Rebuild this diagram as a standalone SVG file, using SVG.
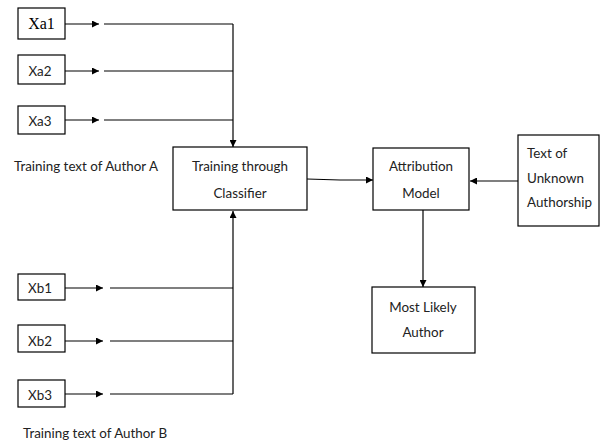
<svg xmlns="http://www.w3.org/2000/svg" width="600" height="445" viewBox="0 0 600 445">
<style>
.box{fill:#fff;stroke:#000;stroke-width:1.2}
.t{font-family:Lato,"Open Sans","Liberation Sans",sans-serif;font-size:13.4px;fill:#222}
.c{text-anchor:middle}
.ln{stroke:#000;stroke-width:1.2;fill:none}
.serif{font-family:"Liberation Serif","DejaVu Serif",serif;font-size:16px;fill:#000}
</style>
<defs>
<marker id="ah" viewBox="0 0 10 10" refX="10" refY="5" markerWidth="7" markerHeight="7" markerUnits="userSpaceOnUse" orient="auto">
<path d="M0,0 L10,5 L0,10 z" fill="#000"/>
</marker>
</defs>
<rect width="600" height="445" fill="#fff"/>
<g id="connectors">
<line class="ln" x1="65" y1="24" x2="99" y2="24" marker-end="url(#ah)"/>
<line class="ln" x1="104" y1="24" x2="233" y2="24"/>
<line class="ln" x1="65" y1="71" x2="99" y2="71" marker-end="url(#ah)"/>
<line class="ln" x1="104" y1="71" x2="233" y2="71"/>
<line class="ln" x1="65" y1="120" x2="99" y2="120" marker-end="url(#ah)"/>
<line class="ln" x1="104" y1="120" x2="233" y2="120"/>
<line class="ln" x1="233" y1="24" x2="233" y2="147" marker-end="url(#ah)"/>
<line class="ln" x1="65" y1="288" x2="103" y2="288" marker-end="url(#ah)"/>
<line class="ln" x1="110" y1="288" x2="233" y2="288"/>
<line class="ln" x1="65" y1="341" x2="103" y2="341" marker-end="url(#ah)"/>
<line class="ln" x1="110" y1="341" x2="233" y2="341"/>
<line class="ln" x1="65" y1="394" x2="103" y2="394" marker-end="url(#ah)"/>
<line class="ln" x1="110" y1="394" x2="233" y2="394"/>
<line class="ln" x1="233" y1="394" x2="233" y2="211" marker-end="url(#ah)"/>
<polyline class="ln" points="307,179 340,180 373,180" marker-end="url(#ah)"/>
<line class="ln" x1="518" y1="181" x2="470" y2="181" marker-end="url(#ah)"/>
<line class="ln" x1="423" y1="210" x2="423" y2="287" marker-end="url(#ah)"/>
</g>
<g id="xa1"><rect class="box" x="18" y="8" width="47" height="31"/><text class="serif c" x="41.5" y="29">Xa1</text></g>
<g id="xa2"><rect class="box" x="18" y="55" width="47" height="29"/><text class="t c" x="40" y="76">Xa2</text></g>
<g id="xa3"><rect class="box" x="18" y="106" width="47" height="28"/><text class="t c" x="40" y="126">Xa3</text></g>
<g id="xb1"><rect class="box" x="18" y="274" width="47" height="26"/><text class="t c" x="40" y="293">Xb1</text></g>
<g id="xb2"><rect class="box" x="18" y="325" width="47" height="27"/><text class="t c" x="40" y="346">Xb2</text></g>
<g id="xb3"><rect class="box" x="18" y="380" width="47" height="27"/><text class="t c" x="40" y="400">Xb3</text></g>
<g id="labelA"><text class="t" x="14" y="171">Training text of Author A</text></g>
<g id="labelB"><text class="t" x="23" y="438">Training text of Author B</text></g>
<g id="classifier"><rect class="box" x="173" y="147" width="134" height="63"/><text class="t c" x="240" y="171">Training through</text><text class="t c" x="240" y="198">Classifier</text></g>
<g id="attribution"><rect class="box" x="373" y="148" width="96" height="62"/><text class="t c" x="421" y="171">Attribution</text><text class="t c" x="421" y="198">Model</text></g>
<g id="unknown"><rect class="box" x="518" y="135" width="81" height="91"/><text class="t" x="527" y="158">Text of</text><text class="t" x="527" y="183">Unknown</text><text class="t" x="527" y="207">Authorship</text></g>
<g id="likely"><rect class="box" x="372" y="287" width="103" height="66"/><text class="t c" x="423" y="312">Most Likely</text><text class="t c" x="423" y="337">Author</text></g>
</svg>
